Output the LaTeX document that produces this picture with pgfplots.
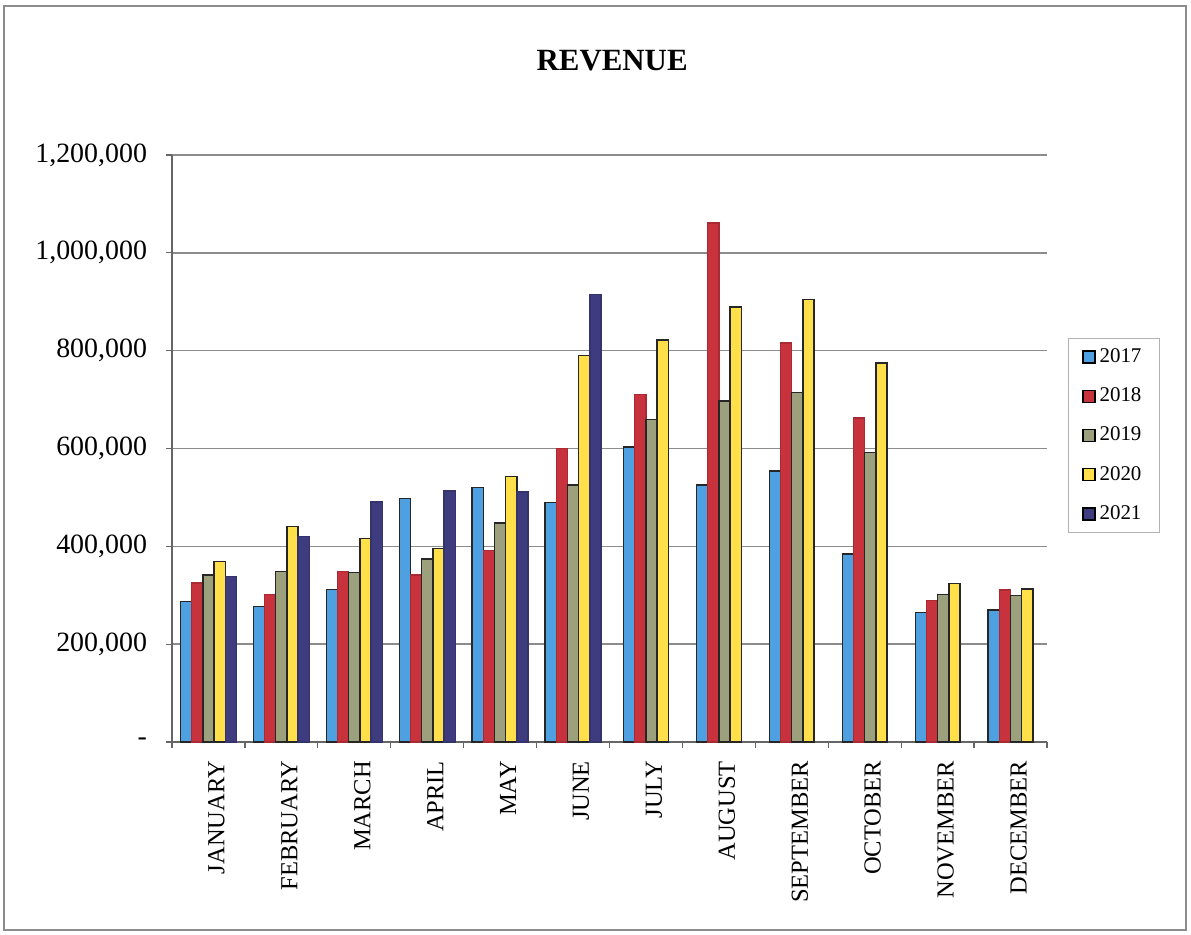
\documentclass[border=0pt]{standalone}
\usepackage{fontspec}
\setmainfont{Liberation Serif}
\usepackage{pgfplots}
\usepackage{pgfplotstable}
\pgfplotsset{compat=1.18}

\definecolor{c17}{RGB}{79,160,224}
\definecolor{c18}{RGB}{200,50,60}
\definecolor{c19}{RGB}{156,160,124}
\definecolor{c20}{RGB}{255,224,75}
\definecolor{c21}{RGB}{62,60,126}

\pgfplotstableread{
m y17 y18 y19 y20 y21
0 287000 325000 341000 369000 338000
1 277000 301000 348000 440000 420000
2 312000 348000 346000 416000 491000
3 498000 341000 374000 396000 513000
4 520000 391000 448000 543000 511000
5 489000 600000 525000 790000 915000
}\firsthalf

\pgfplotstableread{
m y17 y18 y19 y20
6 603000 710000 659000 822000
7 525000 1061000 697000 889000
8 554000 816000 715000 905000
9 384000 662000 592000 775000
10 265000 289000 301000 324000
11 270000 311000 299000 313000
}\secondhalf

\begin{document}
\begin{tikzpicture}
\useasboundingbox (-86bp,-96.5bp) rectangle (509.5bp,371bp);
\draw[black!45, line width=1.2pt] (-84bp,-94bp) rectangle (507bp,368bp);
\begin{axis}[
  scale only axis,
  width=437.5bp, height=293.5bp,
  at={(0,0)}, anchor=south west,
  ybar=0pt, bar width=5.6bp,
  xmin=-0.5, xmax=11.5,
  ymin=0, ymax=1200000,
  axis lines*=left,
  axis line style={black!60, line width=0.8pt},
  tick align=outside,
  major tick length=3bp,
  tick style={black!60, line width=0.6pt},
  ytick={0,200000,400000,600000,800000,1000000,1200000},
  yticklabels={{-},{200,000},{400,000},{600,000},{800,000},{1,000,000},{1,200,000}},
  yticklabel style={font=\fontsize{14}{16}\selectfont, xshift=-6bp},
  scaled y ticks=false,
  ymajorgrids,
  grid style={black!45, line width=0.8pt},
  xtick={-0.5,0.5,...,11.5},
  xticklabels={},
  extra x ticks={0,1,2,3,4,5,6,7,8,9,10,11},
  extra x tick labels={JANUARY,FEBRUARY,MARCH,APRIL,MAY,JUNE,JULY,AUGUST,SEPTEMBER,OCTOBER,NOVEMBER,DECEMBER},
  extra x tick style={major tick length=0pt, xticklabel style={rotate=90, anchor=east, font=\fontsize{12.3}{14}\selectfont, yshift=-4bp, xshift=-6bp}},
  title={\textbf{REVENUE}},
  title style={at={(0.503,1.140)}, anchor=center, font=\fontsize{15.5}{18}\selectfont},
  legend style={at={(1.024,0.688)}, anchor=north west, draw=black!30, font=\fontsize{10.5}{12}\selectfont, row sep=7.2bp, inner xsep=7bp, inner ysep=3bp},
  legend cell align=left,
  legend image code/.code={\draw[#1, draw=black, line width=0.6pt] (0bp,-3bp) rectangle (6bp,3bp);},
  every axis plot/.append style={line width=0.7pt},
]
\addplot[fill=c17, draw=black!85, bar shift=-11.2bp] table[x=m,y=y17]{\firsthalf};
\addplot[fill=c18, draw=c18!85!black, bar shift=-5.6bp] table[x=m,y=y18]{\firsthalf};
\addplot[fill=c19, draw=black!85, bar shift=0bp] table[x=m,y=y19]{\firsthalf};
\addplot[fill=c20, draw=black!85, bar shift=5.6bp] table[x=m,y=y20]{\firsthalf};
\addplot[fill=c21, draw=c21!85!black, bar shift=11.2bp] table[x=m,y=y21]{\firsthalf};
\addplot[fill=c17, draw=black!85, bar shift=-8.4bp, forget plot] table[x=m,y=y17]{\secondhalf};
\addplot[fill=c18, draw=c18!85!black, bar shift=-2.8bp, forget plot] table[x=m,y=y18]{\secondhalf};
\addplot[fill=c19, draw=black!85, bar shift=2.8bp, forget plot] table[x=m,y=y19]{\secondhalf};
\addplot[fill=c20, draw=black!85, bar shift=8.4bp, forget plot] table[x=m,y=y20]{\secondhalf};
\legend{2017,2018,2019,2020,2021}
\end{axis}
\end{tikzpicture}
\end{document}
